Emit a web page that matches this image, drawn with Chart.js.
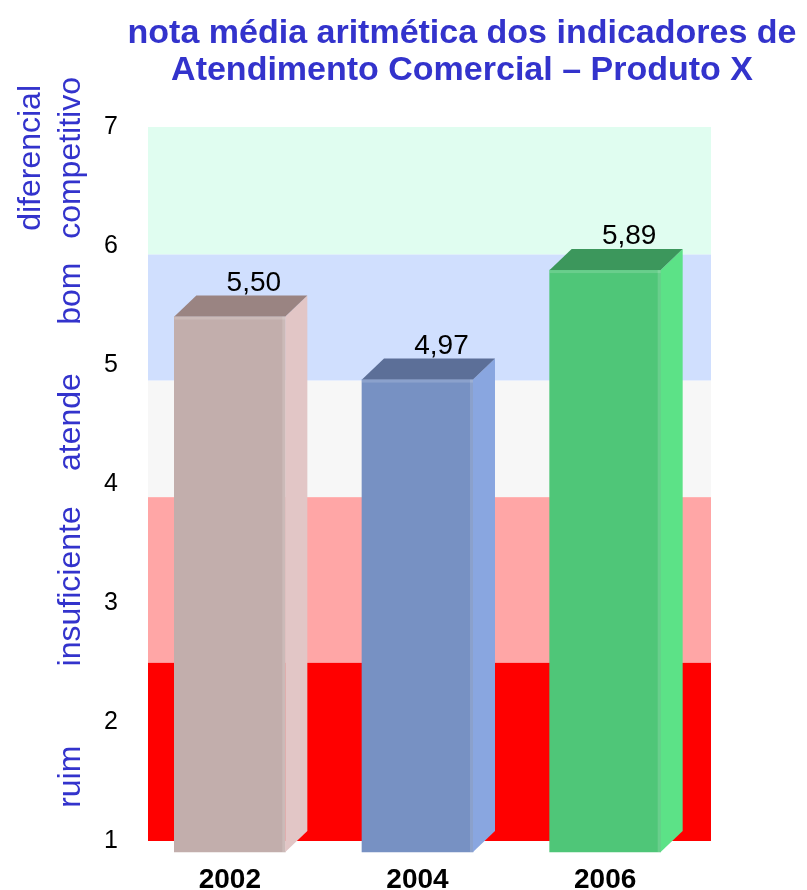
<!DOCTYPE html>
<html lang="pt">
<head>
<meta charset="UTF-8">
<title>nota média aritmética</title>
<script src="https://cdn.jsdelivr.net/npm/chart.js@4.4.1/dist/chart.umd.min.js"></script>
<style>
  html, body { margin: 0; padding: 0; background: #fff; }
  #wrap { width: 807px; height: 890px; position: relative; }
</style>
</head>
<body>
<div id="wrap"><canvas id="myChart"></canvas></div>
<script>
// dados
const anos   = ['2002', '2004', '2006'];
const notas  = [5.50, 4.97, 5.89];
const rotulosNota = ['5,50', '4,97', '5,89'];
const ticksY = [1, 2, 3, 4, 5, 6, 7];

// faixas de avaliação (limites no eixo y)
const faixas  = ['ruim', 'insuficiente', 'atende', 'bom', ['diferencial', 'competitivo']];
const limites = [1, 2.5, 3.89, 4.87, 5.93, 7];
const centroRotulo = [1.54, 3.14, 4.52, 5.6, 6.74];

const titulo = ['nota média aritmética dos indicadores de', 'Atendimento Comercial – Produto X'];

// cores
const corFaixa = ['#ff0000', '#ffa6a6', '#f7f7f7', '#d0dffe', '#e0fdf0'];
const corFrente = ['#c2aeac', '#7791c3', '#4fc678'];
const corTopo   = ['#9a8482', '#5c6f98', '#3c975c'];
const corLado   = ['#e2c6c6', '#89a6e0', '#5ce287'];
const azul = '#3333cc';

// profundidade 3d (frente / fundo em relação à posição da escala)
const FX = -12, FY = 11, BX = 10, BY = -10;

const bandas = {
    id: 'bandas',
    beforeDatasetsDraw(chart) {
        const {ctx, chartArea: a, scales: {y}} = chart;
        ctx.save();
        for (let i = 0; i < corFaixa.length; i++) {
            const y0 = y.getPixelForValue(limites[i]);
            const y1 = y.getPixelForValue(limites[i + 1]);
            ctx.fillStyle = corFaixa[i];
            ctx.fillRect(a.left, y1, a.right - a.left, y0 - y1);
        }
        // rótulos das faixas
        ctx.fillStyle = azul;
        ctx.font = '32px "Liberation Sans", Arial, sans-serif';
        ctx.textAlign = 'center';
        ctx.textBaseline = 'alphabetic';
        faixas.forEach((f, i) => {
            const linhas = Array.isArray(f) ? f : [f];
            const cy = y.getPixelForValue(centroRotulo[i]);
            linhas.forEach((t, j) => {
                const bx = 80 - (linhas.length - 1 - j) * 40;
                ctx.save();
                ctx.translate(bx, cy);
                ctx.rotate(-Math.PI / 2);
                ctx.fillText(t, 0, 0);
                ctx.restore();
            });
        });
        ctx.restore();
        // desloca as barras para a face da frente
        ctx.save();
        ctx.translate(FX, FY);
    },
    afterDatasetsDraw(chart) {
        const {ctx} = chart;
        ctx.restore();
        const meta = chart.getDatasetMeta(0);
        ctx.save();
        meta.data.forEach((bar, i) => {
            const half = bar.width / 2;
            const l = bar.x - half, r = bar.x + half;
            const t = bar.y, b = bar.base;
            // lado
            ctx.fillStyle = corLado[i];
            ctx.beginPath();
            ctx.moveTo(r + FX, t + FY);
            ctx.lineTo(r + BX, t + BY);
            ctx.lineTo(r + BX, b + BY);
            ctx.lineTo(r + FX, b + FY);
            ctx.closePath();
            ctx.fill();
            // topo
            ctx.fillStyle = corTopo[i];
            ctx.beginPath();
            ctx.moveTo(l + FX, t + FY);
            ctx.lineTo(r + FX, t + FY);
            ctx.lineTo(r + BX, t + BY);
            ctx.lineTo(l + BX, t + BY);
            ctx.closePath();
            ctx.fill();
            // brilho na aresta
            ctx.fillStyle = 'rgba(255,255,255,0.15)';
            ctx.fillRect(l + FX, t + FY, r - l, 3);
            ctx.fillRect(r + FX - 3, t + FY, 3, b - t);
            // valor
            ctx.fillStyle = '#000';
            ctx.font = '28px "Liberation Sans", Arial, sans-serif';
            ctx.textAlign = 'center';
            ctx.textBaseline = 'alphabetic';
            ctx.fillText(rotulosNota[i], bar.x + BX + 2, t + BY - 5);
        });
        ctx.restore();
    },
    afterDraw(chart) {
        const {ctx} = chart;
        ctx.save();
        ctx.fillStyle = azul;
        ctx.font = 'bold 34px "Liberation Sans", Arial, sans-serif';
        ctx.textAlign = 'center';
        ctx.textBaseline = 'alphabetic';
        ctx.fillText(titulo[0], 462, 43);
        ctx.fillText(titulo[1], 462, 80);
        ctx.restore();
    }
};

const ctx = document.getElementById('myChart').getContext('2d');
new Chart(ctx, {
    type: 'bar',
    data: {
        labels: anos,
        datasets: [{
            data: notas,
            base: 1,
            backgroundColor: corFrente,
            borderWidth: 0,
            barThickness: 111,
            clip: false
        }]
    },
    options: {
        responsive: true,
        maintainAspectRatio: false,
        animation: false,
        layout: { padding: { top: 127, right: 96, bottom: 0, left: 0 } },
        plugins: {
            legend: { display: false },
            tooltip: { enabled: false },
            title: { display: false }
        },
        scales: {
            x: {
                grid: { display: false, drawTicks: false },
                border: { display: false },
                ticks: {
                    color: '#000',
                    padding: 22,
                    labelOffset: FX,
                    font: { family: '"Liberation Sans", Arial, sans-serif', size: 28, weight: 'bold' }
                },
                afterFit(s) { s.height = 49; }
            },
            y: {
                min: 1,
                max: 7,
                grid: { display: false, drawTicks: false },
                border: { display: false },
                afterBuildTicks(s) { s.ticks = ticksY.map(v => ({value: v})); },
                ticks: {
                    color: '#000',
                    padding: 30,
                    font: { family: '"Liberation Sans", Arial, sans-serif', size: 25 }
                },
                afterFit(s) { s.width = 148; }
            }
        }
    },
    plugins: [bandas]
});
</script>
</body>
</html>
